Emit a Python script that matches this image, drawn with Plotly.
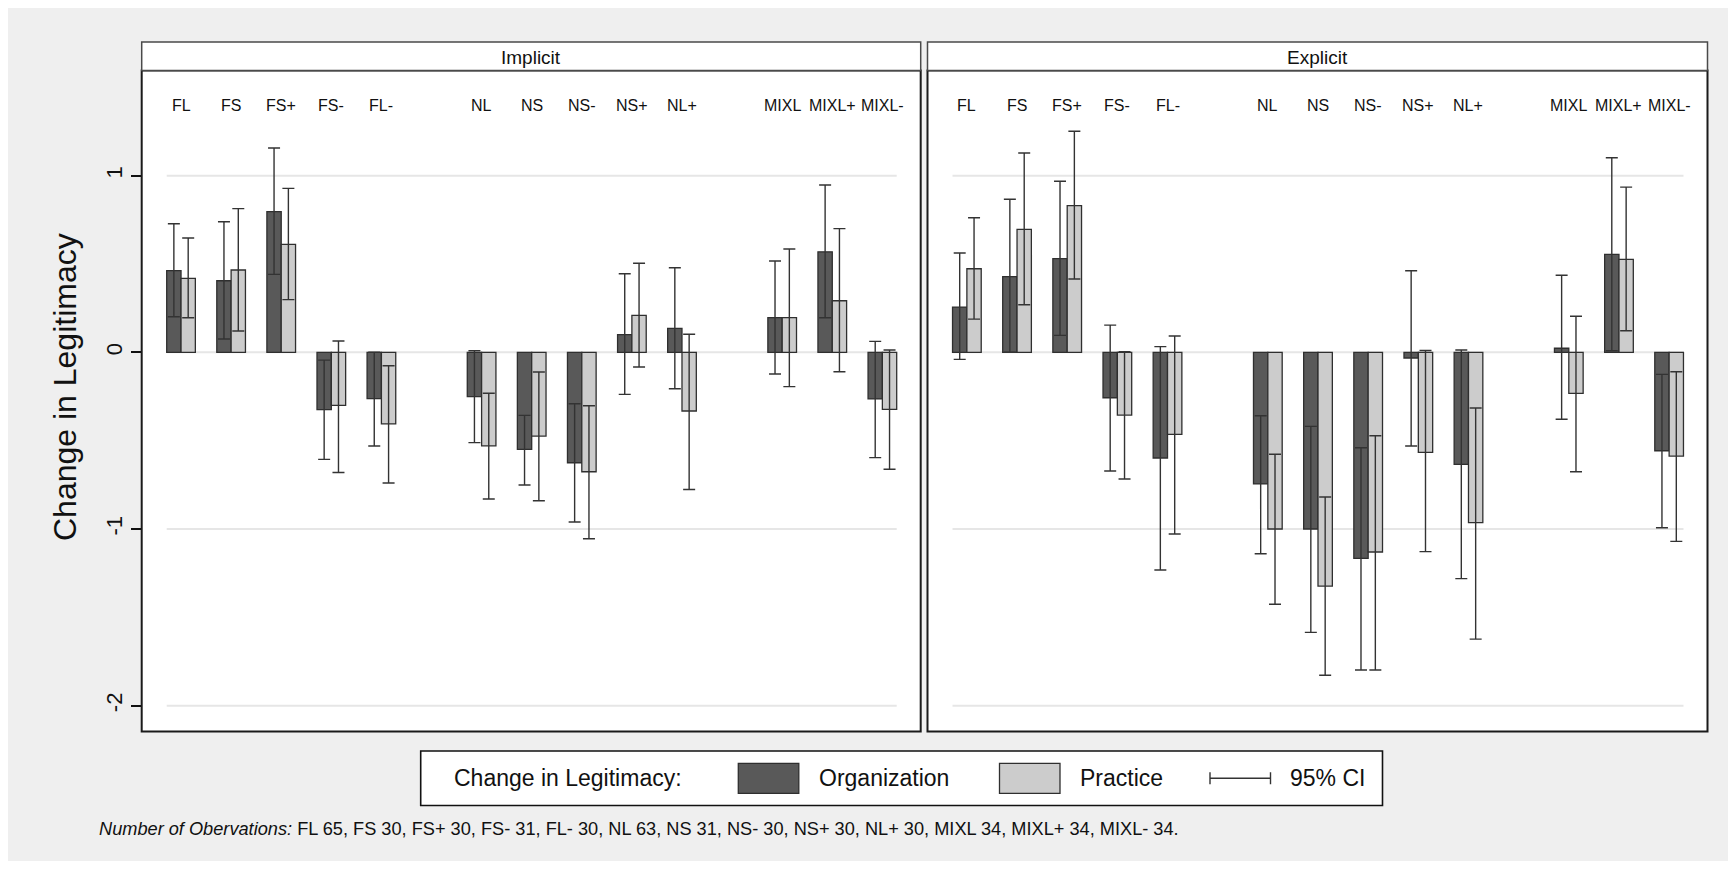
import plotly.graph_objects as go

W, H = 1736, 869

# Category groups (one empty slot is left between groups)
groups = [
    ["FL", "FS", "FS+", "FS-", "FL-"],
    ["NL", "NS", "NS-", "NS+", "NL+"],
    ["MIXL", "MIXL+", "MIXL-"],
]
categories = [c for g in groups for c in g]

panels = ["Implicit", "Explicit"]

# Implicit: mean change and 95% CI bounds
imp_org_mean = [0.462, 0.405, 0.796, -0.324, -0.262, -0.251, -0.549, -0.625, 0.100, 0.136, 0.196, 0.569, -0.264]
imp_org_lo = [0.201, 0.075, 0.441, -0.606, -0.530, -0.511, -0.751, -0.960, -0.238, -0.206, -0.123, 0.196, -0.596]
imp_org_hi = [0.728, 0.739, 1.156, -0.044, 0.000, 0.009, -0.357, -0.291, 0.445, 0.479, 0.517, 0.947, 0.062]
imp_pra_mean = [0.419, 0.466, 0.611, -0.300, -0.405, -0.530, -0.474, -0.676, 0.209, -0.332, 0.196, 0.292, -0.323]
imp_pra_lo = [0.196, 0.121, 0.298, -0.680, -0.740, -0.830, -0.840, -1.055, -0.083, -0.776, -0.194, -0.110, -0.662]
imp_pra_hi = [0.647, 0.813, 0.928, 0.064, -0.076, -0.232, -0.111, -0.302, 0.504, 0.102, 0.585, 0.700, 0.013]

# Explicit: mean change and 95% CI bounds
exp_org_mean = [0.256, 0.428, 0.530, -0.257, -0.598, -0.745, -1.000, -1.166, -0.032, -0.634, 0.023, 0.554, -0.557]
exp_org_lo = [-0.040, 0.000, 0.096, -0.672, -1.232, -1.140, -1.585, -1.798, -0.530, -1.281, -0.379, 0.009, -0.993]
exp_org_hi = [0.562, 0.866, 0.968, 0.154, 0.032, -0.359, -0.419, -0.540, 0.462, 0.013, 0.436, 1.101, -0.125]
exp_pra_mean = [0.473, 0.696, 0.830, -0.355, -0.464, -1.000, -1.323, -1.130, -0.566, -0.964, -0.232, 0.526, -0.587]
exp_pra_lo = [0.188, 0.269, 0.415, -0.717, -1.028, -1.426, -1.828, -1.798, -1.128, -1.623, -0.676, 0.122, -1.070]
exp_pra_hi = [0.762, 1.128, 1.251, 0.003, 0.092, -0.577, -0.819, -0.472, 0.010, -0.315, 0.204, 0.935, -0.110]

y_ticks = [-2, -1, 0, 1]
obs_note = ("<i>Number of Obervations:</i> FL 65, FS 30, FS+ 30, FS- 31, FL- 30, NL 63, NS 31, "
            "NS- 30, NS+ 30, NL+ 30, MIXL 34, MIXL+ 34, MIXL- 34.")

FONT = "Liberation Sans, Arial, Helvetica, sans-serif"
ORG_COLOR = "#595959"
PRA_COLOR = "#cccccc"
EDGE = "#2f2f2f"
TEXT = "#111111"

# slot positions along the x axis
pos = []
p = 0
for g in groups:
    for _ in g:
        pos.append(p)
        p += 1
    p += 1

BW = 0.286  # width of a single bar in slot units


def px(x):
    return x / W


def py(y):
    return 1 - y / H


data = {
    "Implicit": (imp_org_mean, imp_org_lo, imp_org_hi, imp_pra_mean, imp_pra_lo, imp_pra_hi),
    "Explicit": (exp_org_mean, exp_org_lo, exp_org_hi, exp_pra_mean, exp_pra_lo, exp_pra_hi),
}

fig = go.Figure()

for i, panel in enumerate(panels):
    xa = "x" if i == 0 else "x2"
    om, olo, ohi, pm, plo, phi = data[panel]
    for mean, lo, hi, shift, color, name in [
        (om, olo, ohi, -BW / 2, ORG_COLOR, "Organization"),
        (pm, plo, phi, BW / 2, PRA_COLOR, "Practice"),
    ]:
        fig.add_trace(go.Bar(
            x=[q + shift for q in pos],
            y=mean,
            width=BW,
            name=name,
            xaxis=xa,
            yaxis="y" if i == 0 else "y2",
            marker=dict(color=color, line=dict(color=EDGE, width=1.3)),
            error_y=dict(
                type="data", symmetric=False,
                array=[h - m for h, m in zip(hi, mean)],
                arrayminus=[m - l for m, l in zip(mean, lo)],
                color="#333333", thickness=1.4, width=6,
            ),
            showlegend=False,
            hoverinfo="skip",
        ))

X_RANGE = [-0.785, 14.765]
Y_RANGE = [-2.146, 1.595]
panel_px = [(141.7, 920.7), (927.5, 1707.5)]
plot_top, plot_bot, strip_top = 70.5, 731.5, 42.0

axis_common = dict(range=X_RANGE, showgrid=False, zeroline=False, showticklabels=False,
                   ticks="", showline=False, fixedrange=True)
fig.update_layout(
    xaxis=dict(domain=[px(panel_px[0][0]), px(panel_px[0][1])], anchor="y", **axis_common),
    xaxis2=dict(domain=[px(panel_px[1][0]), px(panel_px[1][1])], anchor="y2", **axis_common),
    yaxis=dict(domain=[py(plot_bot), py(plot_top)], range=Y_RANGE, anchor="x",
               tickvals=y_ticks, ticktext=[str(t) for t in y_ticks],
               ticks="outside", ticklen=10, tickwidth=1.5, tickcolor=TEXT,
               tickangle=-90, tickfont=dict(family=FONT, size=22, color=TEXT),
               showgrid=False, zeroline=False, showline=False),
    yaxis2=dict(domain=[py(plot_bot), py(plot_top)], range=Y_RANGE, anchor="x2",
                matches="y", showticklabels=False, ticks="",
                showgrid=False, zeroline=False, showline=False),
    barmode="overlay",
    width=W, height=H,
    margin=dict(l=0, r=0, t=0, b=0),
    paper_bgcolor="#efefef",
    plot_bgcolor="white",
    showlegend=False,
    font=dict(family=FONT, color=TEXT),
)

shapes = []
annotations = []


def label(text, x, y, size, xanchor="center", **kw):
    annotations.append(dict(text=text, xref="paper", yref="paper", x=px(x), y=py(y),
                            xanchor=xanchor, yanchor="middle", showarrow=False,
                            font=dict(size=size, color=TEXT), **kw))


for i, panel in enumerate(panels):
    xa = "x" if i == 0 else "x2"
    x0, x1 = panel_px[i]
    # horizontal grid lines spanning the bar region only
    for t in y_ticks:
        shapes.append(dict(type="line", xref=xa, yref="y", x0=pos[0] - BW, x1=pos[-1] + BW,
                           y0=t, y1=t, line=dict(color="#e6e6e6", width=2), layer="below"))
    # plot frame
    shapes.append(dict(type="rect", xref="paper", yref="paper",
                       x0=px(x0), x1=px(x1), y0=py(plot_bot), y1=py(plot_top),
                       line=dict(color="#1a1a1a", width=2), fillcolor="rgba(0,0,0,0)"))
    # strip header
    shapes.append(dict(type="rect", xref="paper", yref="paper",
                       x0=px(x0), x1=px(x1), y0=py(plot_top), y1=py(strip_top),
                       line=dict(color="#4a4a4a", width=1.5), fillcolor="white"))
    label(panel, (x0 + x1) / 2, (strip_top + plot_top) / 2 + 1, 19)
    # category labels along the top of each panel
    for c, q in zip(categories, pos):
        annotations.append(dict(text=c, xref=xa, yref="y", x=q, y=1.396,
                                xanchor="center", yanchor="middle",
                                showarrow=False, font=dict(size=16, color=TEXT)))

# y axis title
label("Change in Legitimacy", 65, 387, 32, textangle=-90)

# legend box
leg_top, leg_bot = 751, 805.5
leg_mid = (leg_top + leg_bot) / 2
shapes.append(dict(type="rect", xref="paper", yref="paper",
                   x0=px(420.7), x1=px(1382.5), y0=py(leg_bot), y1=py(leg_top),
                   line=dict(color=TEXT, width=1.6), fillcolor="white"))
for sx, color in [(738.3, ORG_COLOR), (999.5, PRA_COLOR)]:
    shapes.append(dict(type="rect", xref="paper", yref="paper",
                       x0=px(sx), x1=px(sx + 60.5), y0=py(793.3), y1=py(763.3),
                       line=dict(color=EDGE, width=1.3), fillcolor=color))
# CI key: horizontal whisker with end caps
shapes.append(dict(type="line", xref="paper", yref="paper", x0=px(1210), x1=px(1270.5),
                   y0=py(leg_mid), y1=py(leg_mid), line=dict(color="#333333", width=1.4)))
for cx in [1210, 1270.5]:
    shapes.append(dict(type="line", xref="paper", yref="paper", x0=px(cx), x1=px(cx),
                       y0=py(leg_mid - 6), y1=py(leg_mid + 6), line=dict(color="#333333", width=1.4)))

for text, tx in [("Change in Legitimacy:", 451.7), ("Organization", 816.7),
                 ("Practice", 1078), ("95% CI", 1287.5)]:
    label(text, tx, leg_mid, 23, xanchor="left")

# observation counts note
label(obs_note, 97, 829, 18.2, xanchor="left")

# thin white page border around the graph region
for bx0, by0, bx1, by1 in [(0, 0, W, 8), (0, H - 8, W, H), (0, 0, 8, H), (W - 8, 0, W, H)]:
    shapes.append(dict(type="rect", xref="paper", yref="paper",
                       x0=px(bx0), x1=px(bx1), y0=py(by1), y1=py(by0),
                       line=dict(width=0), fillcolor="white"))

fig.update_layout(shapes=shapes, annotations=annotations)

fig.write_html("out.html", config={"displayModeBar": False})
